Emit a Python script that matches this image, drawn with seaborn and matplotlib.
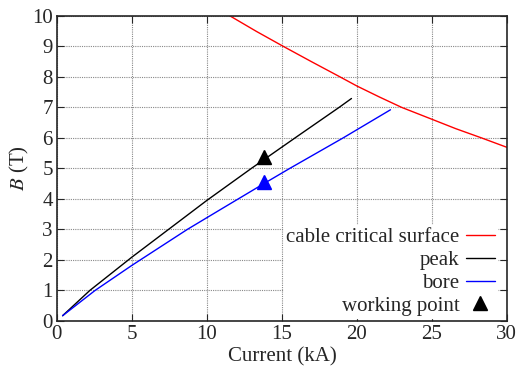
import pandas as pd
import matplotlib
matplotlib.use("Agg")
import matplotlib.pyplot as plt
import seaborn as sns
from matplotlib.lines import Line2D

# cable critical surface (red)
crit_I = [11.53, 13.3, 15.09, 17.0, 18.87, 20.0, 21.5, 22.98, 25.0, 26.6, 28.3, 30.0]
crit_B = [10.0, 9.49, 9.0, 8.49, 8.0, 7.70, 7.34, 7.0, 6.61, 6.30, 6.0, 5.69]

# peak field (black)
peak_I = [0.38, 2.2, 5.0, 7.5, 10.0, 12.97, 16.0, 18.82, 19.64]
peak_B = [0.17, 1.0, 2.09, 3.02, 3.95, 5.0, 6.04, 7.0, 7.29]

# bore field (blue)
bore_I = [0.38, 2.55, 5.0, 8.7, 10.87, 13.8, 15.53, 19.09, 22.24]
bore_B = [0.17, 1.0, 1.82, 3.0, 3.64, 4.50, 5.0, 6.0, 6.92]

# working point
wp_I = [13.82, 13.82]
wp_B = [5.36, 4.56]
wp_colors = ["black", "blue"]

sns.set_style("ticks")
plt.rcParams["font.family"] = ["Liberation Serif", "DejaVu Serif"]
plt.rcParams["mathtext.fontset"] = "stix"

fig = plt.figure(figsize=(5.22, 3.68), dpi=100)
ax = fig.add_axes([0.109, 0.128, 0.862, 0.829])

crit = pd.DataFrame({"I": crit_I, "B": crit_B})
peak = pd.DataFrame({"I": peak_I, "B": peak_B})
bore = pd.DataFrame({"I": bore_I, "B": bore_B})

sns.lineplot(data=crit, x="I", y="B", color="red", lw=1.0, ax=ax, sort=False)
sns.lineplot(data=peak, x="I", y="B", color="black", lw=1.0, ax=ax, sort=False)
sns.lineplot(data=bore, x="I", y="B", color="blue", lw=1.0, ax=ax, sort=False)
for xi, yi, c in zip(wp_I, wp_B, wp_colors):
    ax.plot(xi, yi, marker="^", color=c, ms=10, ls="none", zorder=5)

ax.set_xlim(0, 30)
ax.set_ylim(0, 10)
ax.set_xticks(range(0, 31, 5))
ax.set_yticks(range(0, 11, 1))
ax.grid(True, color="#888888", linestyle=(0, (1, 1)), lw=0.8)
ax.tick_params(direction="in", top=True, right=True, labelsize=15, length=5, pad=3)
for s in ax.spines.values():
    s.set_linewidth(1.2)
ax.set_xlabel("Current (kA)", fontsize=15, labelpad=2)
ax.set_ylabel("$B$ (T)", fontsize=15, labelpad=1)

handles = [
    Line2D([], [], color="red", lw=1.0),
    Line2D([], [], color="black", lw=1.0),
    Line2D([], [], color="blue", lw=1.0),
    Line2D([], [], color="black", marker="^", ms=10, ls="none"),
]
labels = ["cable critical surface", "peak", "bore", "working point"]
leg = ax.legend(handles, labels, loc="lower right", bbox_to_anchor=(0.978, 0.01),
                markerfirst=False, frameon=True, fancybox=False, framealpha=1,
                edgecolor="white", fontsize=15, handlelength=1.4,
                handletextpad=0.3, labelspacing=0.16, borderpad=0.1,
                borderaxespad=0)
for t in leg.get_texts():
    t.set_ha("right")
leg._legend_box.align = "right"

fig.savefig("out.png", dpi=100)
